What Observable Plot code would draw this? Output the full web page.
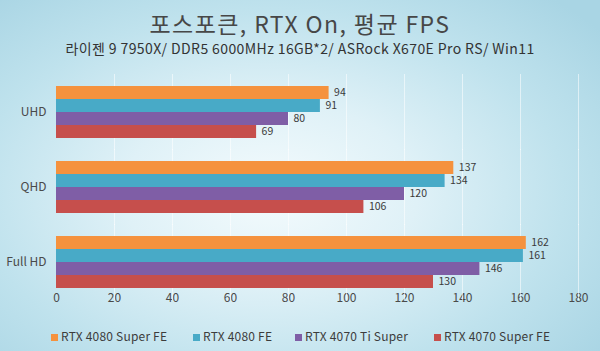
<!DOCTYPE html>
<html>
<head>
<meta charset="utf-8">
<script src="https://cdn.jsdelivr.net/npm/d3@7"></script>
<script src="https://cdn.jsdelivr.net/npm/@observablehq/plot@0.6"></script>
<style>
  html, body { margin: 0; padding: 0; }
  #wrap {
    width: 600px; height: 351px; position: relative; overflow: hidden;
    background: radial-gradient(ellipse 70% 75% at 45% 55%, #f4fbfd 0%, #dff1f7 35%, #bfe2ed 70%, #a9d5e4 100%);
    font-family: 'Noto Sans CJK KR', 'Noto Sans', sans-serif;
    color: #3c3c3c;
  }
  #head { height: 70px; text-align: center; }
  #title { padding-top: 9px; font-size: 23px; line-height: 28px; letter-spacing: 1.4px; color: #474747; }
  #subtitle { margin-top: 2px; font-size: 14px; line-height: 18px; letter-spacing: 0.4px; color: #333; }
  #chart { height: 250px; }
  #legend { position: absolute; top: 327px; left: 0; width: 600px; height: 18px; font-size: 12px; color: #3c3c3c; }
  .item { position: absolute; top: 0; line-height: 18px; white-space: nowrap; letter-spacing: 0.2px; }
  .sw { display: inline-block; width: 7px; height: 7px; margin-right: 3px; vertical-align: 0px; }
</style>
</head>
<body>
<div id="wrap">
  <div id="head">
    <div id="title">포스포큰, RTX On, 평균 FPS</div>
    <div id="subtitle">라이젠 9 7950X/ DDR5 6000MHz 16GB*2/ ASRock X670E Pro RS/ Win11</div>
  </div>
  <div id="chart"></div>
  <div id="legend"></div>
</div>
<script>
const groups = ["UHD", "QHD", "Full HD"];
const series = ["RTX 4080 Super FE", "RTX 4080 FE", "RTX 4070 Ti Super", "RTX 4070 Super FE"];
const colors = ["#f5923e", "#48aac7", "#7f5ea6", "#c64f4c"];
const rtx4080SuperFE = [94, 137, 162];
const rtx4080FE = [91, 134, 161];
const rtx4070TiSuper = [80, 120, 146];
const rtx4070SuperFE = [69, 106, 130];
const xTicks = [0, 20, 40, 60, 80, 100, 120, 140, 160, 180];

const values = [rtx4080SuperFE, rtx4080FE, rtx4070TiSuper, rtx4070SuperFE];
const data = groups.flatMap((g, i) => series.map((s, j) => ({group: g, series: s, fps: values[j][i]})));

const plot = Plot.plot({
  width: 600,
  height: 250,
  marginLeft: 56,
  marginRight: 22,
  marginTop: 16,
  marginBottom: 32,
  style: {background: "transparent", fontFamily: "'Noto Sans CJK KR', 'Noto Sans', sans-serif", fontSize: "12px", color: "#4a4a4a"},
  x: {domain: [0, 180], ticks: xTicks, tickSize: 0, tickPadding: 5, label: null},
  y: {domain: series, axis: null, padding: 0},
  fy: {domain: groups, paddingInner: 0.307, paddingOuter: 0, label: null, tickSize: 0, tickPadding: 10},
  color: {domain: series, range: colors},
  facet: {data, y: "group"},
  marks: [
    Plot.ruleX(xTicks.slice(1), {stroke: "#ffffff", strokeOpacity: 0.55, insetTop: -12, insetBottom: -12}),
    Plot.barX(data, {x: "fps", y: "series", fill: "series"}),
    Plot.text(data, {x: "fps", y: "series", text: "fps", dx: 5, textAnchor: "start", fill: "#3a3a3a", fontSize: 10.5})
  ]
});
document.getElementById("chart").appendChild(plot);

const legendPos = [51, 193, 295, 434];
const legend = document.getElementById("legend");
series.forEach((s, i) => {
  const it = document.createElement("div");
  it.className = "item";
  it.style.left = legendPos[i] + "px";
  const sw = document.createElement("span");
  sw.className = "sw";
  sw.style.background = colors[i];
  it.appendChild(sw);
  it.appendChild(document.createTextNode(s));
  legend.appendChild(it);
});
</script>
</body>
</html>
